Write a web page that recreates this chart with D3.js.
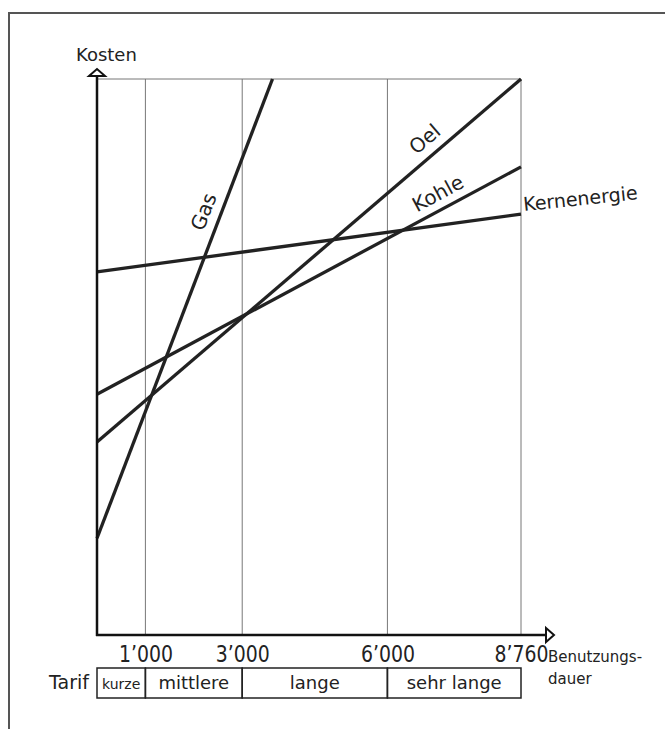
<!DOCTYPE html>
<html>
<head>
<meta charset="utf-8">
<script src="https://cdn.jsdelivr.net/npm/d3@7"></script>
<style>
  body { margin: 0; background: #fff; }
  text { font-family: "DejaVu Sans", sans-serif; fill: #222; }
</style>
</head>
<body>
<svg id="canvas" width="665" height="729"></svg>
<script>
'use strict';

/* cost lines, [hours, relative cost] */
const gasValues = [[0, 17.4], [3626, 100]];
const oelValues = [[0, 34.7], [8760, 100]];
const kohleValues = [[0, 43.3], [8760, 84.2]];
const kernValues = [[0, 65.3], [8760, 75.7]];

const tickValues = [1000, 3000, 6000, 8760];
const tickLabels = ['1’000', '3’000', '6’000', '8’760'];

const tarifBounds = [0, 1000, 3000, 6000, 8760];
const tarifLabels = ['kurze', 'mittlere', 'lange', 'sehr lange'];

let svg = d3.select('svg#canvas');

let x = d3.scaleLinear().domain([0, 8760]).range([97, 521]);
let y = d3.scaleLinear().domain([0, 100]).range([635, 79]);

/* page frame (left and top edge only) */
svg.append('path')
  .attr('d', 'M9,729 L9,13 L665,13')
  .style('fill', 'none')
  .style('stroke', '#555')
  .style('stroke-width', 2);

/* grid: vertical lines at the tick hours and a top line */
let grid = svg.append('g').attr('id', 'grid');
grid.selectAll('line.v')
  .data(tickValues)
  .enter().append('line')
  .attr('class', 'v')
  .attr('x1', d => x(d)).attr('x2', d => x(d))
  .attr('y1', y(0)).attr('y2', y(100))
  .style('stroke', '#777').style('stroke-width', 1);
grid.append('line')
  .attr('x1', x(0)).attr('x2', x(8760))
  .attr('y1', y(100)).attr('y2', y(100))
  .style('stroke', '#777').style('stroke-width', 1);

/* cost lines */
let series = [
  { name: 'Gas', values: gasValues },
  { name: 'Oel', values: oelValues },
  { name: 'Kohle', values: kohleValues },
  { name: 'Kernenergie', values: kernValues }
];
let line = d3.line().x(d => x(d[0])).y(d => y(d[1]));
svg.append('g').attr('id', 'lines')
  .selectAll('path')
  .data(series)
  .enter().append('path')
  .attr('d', d => line(d.values))
  .style('fill', 'none')
  .style('stroke', '#222')
  .style('stroke-width', 3.3);

/* labels placed along their line: hour position, offset above line */
let labelPos = [
  { name: 'Gas', at: 2530, off: 10 },
  { name: 'Oel', at: 7000, off: 10 },
  { name: 'Kohle', at: 7200, off: 9 }
];
labelPos.forEach(function(p){
  let s = series.find(d => d.name === p.name).values;
  let x0 = x(s[0][0]), y0 = y(s[0][1]);
  let x1 = x(s[1][0]), y1 = y(s[1][1]);
  let ang = Math.atan2(y1 - y0, x1 - x0);
  let t = (x(p.at) - x0) / (x1 - x0);
  let px = x0 + t * (x1 - x0) + Math.sin(ang) * p.off;
  let py = y0 + t * (y1 - y0) - Math.cos(ang) * p.off;
  svg.append('text')
    .attr('transform', 'translate(' + px + ',' + py + ') rotate(' + (ang * 180 / Math.PI) + ')')
    .attr('text-anchor', 'middle')
    .style('font-size', '20px')
    .text(p.name);
});
svg.append('text')
  .attr('transform', 'translate(' + (x(8760) + 3) + ',' + (y(75.7) - 3) + ') rotate(-6)')
  .style('font-size', '19px')
  .text('Kernenergie');

/* x axis labels through d3 axis */
let xAxis = d3.axisBottom(x)
  .tickValues(tickValues)
  .tickFormat((d, i) => tickLabels[i])
  .tickSize(0)
  .tickPadding(6);
let gx = svg.append('g')
  .attr('transform', 'translate(0,' + y(0) + ')')
  .call(xAxis);
gx.select('.domain').remove();
gx.selectAll('text')
  .style('font-family', '"DejaVu Sans", sans-serif')
  .style('font-size', '23px')
  .style('fill', '#222')
  .attr('dy', '0.9em')
  .attr('transform', 'scale(0.82,1)');

/* axes with open arrow heads */
svg.append('line')
  .attr('x1', x(0)).attr('x2', x(0))
  .attr('y1', y(0) + 1).attr('y2', 76)
  .style('stroke', '#111').style('stroke-width', 2.5);
svg.append('line')
  .attr('x1', x(0) - 1).attr('x2', 546)
  .attr('y1', y(0)).attr('y2', y(0))
  .style('stroke', '#111').style('stroke-width', 2.5);
svg.append('path')
  .attr('d', 'M' + (x(0) - 8) + ',76 L' + x(0) + ',69 L' + (x(0) + 8) + ',76 Z')
  .style('fill', '#fff').style('stroke', '#111').style('stroke-width', 2);
svg.append('path')
  .attr('d', 'M546,' + (y(0) - 7) + ' L554,' + y(0) + ' L546,' + (y(0) + 7) + ' Z')
  .style('fill', '#fff').style('stroke', '#111').style('stroke-width', 2);

svg.append('text')
  .attr('x', 76).attr('y', 61)
  .style('font-size', '18px')
  .text('Kosten');
svg.append('text')
  .attr('x', 548).attr('y', 662)
  .style('font-size', '15px')
  .text('Benutzungs-');
svg.append('text')
  .attr('x', 548).attr('y', 684)
  .style('font-size', '15px')
  .text('dauer');

/* tariff band below the axis */
let tarif = svg.append('g').attr('id', 'tarif');
let bands = tarifLabels.map((d, i) => ({ label: d, from: tarifBounds[i], to: tarifBounds[i + 1] }));
tarif.selectAll('rect')
  .data(bands)
  .enter().append('rect')
  .attr('x', d => x(d.from))
  .attr('y', 668)
  .attr('width', d => x(d.to) - x(d.from))
  .attr('height', 30)
  .style('fill', 'none')
  .style('stroke', '#222')
  .style('stroke-width', 1.5);
tarif.selectAll('text')
  .data(bands)
  .enter().append('text')
  .attr('x', d => (x(d.from) + x(d.to)) / 2)
  .attr('y', 689)
  .attr('text-anchor', 'middle')
  .style('font-size', (d, i) => i === 0 ? '14px' : '18px')
  .text(d => d.label);
svg.append('text')
  .attr('x', 89).attr('y', 689)
  .attr('text-anchor', 'end')
  .style('font-size', '19px')
  .text('Tarif');
</script>
</body>
</html>
